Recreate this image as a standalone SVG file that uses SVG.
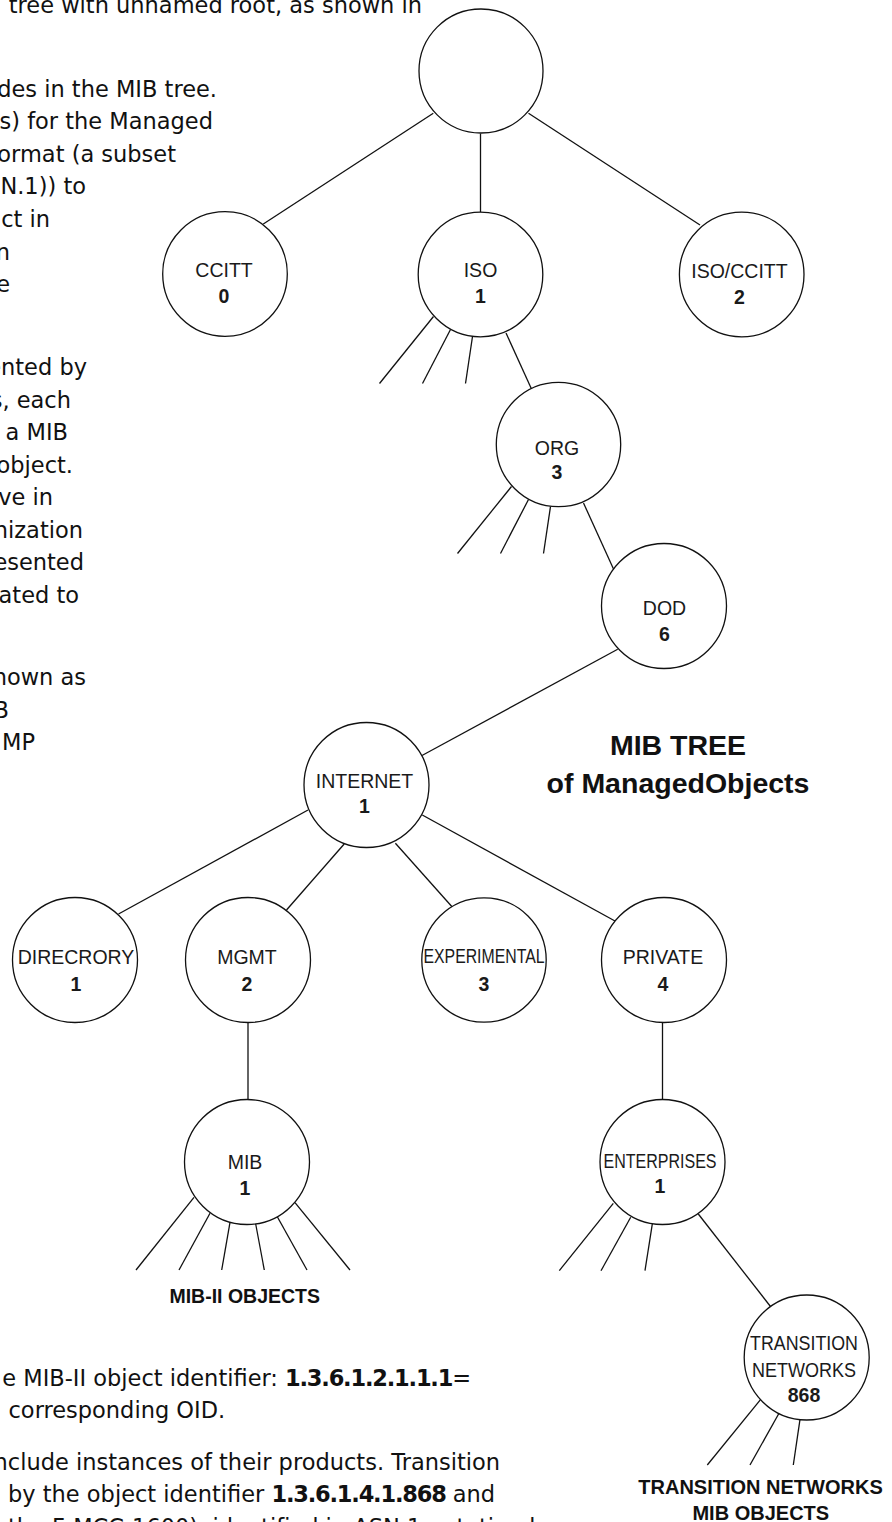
<svg xmlns="http://www.w3.org/2000/svg" width="892" height="1522" viewBox="0 0 892 1522">
<style>
.n{fill:#fff;stroke:#111;stroke-width:1.3}
#connectors line{stroke:#111;stroke-width:1.3;fill:none}
.lb{font-family:"Liberation Sans",Arial,sans-serif;font-size:19.5px;fill:#1a1a1a;text-anchor:middle}
.num{font-weight:bold}
.body{font-family:"DejaVu Sans","Liberation Sans",sans-serif;font-size:22.5px;fill:#111}
.e{text-anchor:end}
.b{font-weight:bold;letter-spacing:-1.2px}
.cap{font-family:"Liberation Sans",Arial,sans-serif;font-weight:bold;text-anchor:middle;fill:#111}
</style>
<rect width="892" height="1522" fill="#fff"/>

<g id="body-text">
<text class="body e" x="422" y="12.5">tree with unnamed root, as shown in</text>
<text class="body e" x="217" y="97">des in the MIB tree.</text>
<text class="body e" x="213" y="129">s) for the Managed</text>
<text class="body e" x="176" y="161.5">format (a subset</text>
<text class="body e" x="86" y="194">N.1)) to</text>
<text class="body e" x="50" y="227">ct in</text>
<text class="body e" x="10" y="259.5">n</text>
<text class="body e" x="10" y="292">e</text>
<text class="body e" x="87" y="375">ented by</text>
<text class="body e" x="71" y="407.5">s, each</text>
<text class="body e" x="68" y="440">a MIB</text>
<text class="body e" x="73" y="472.5">object.</text>
<text class="body e" x="53" y="505">ve in</text>
<text class="body e" x="83" y="537.5">nization</text>
<text class="body e" x="84" y="570">esented</text>
<text class="body e" x="79" y="602.5">ated to</text>
<text class="body e" x="86" y="685">hown as</text>
<text class="body e" x="9" y="717.5">B</text>
<text class="body e" x="35" y="750">MP</text>
<text class="body e" x="471" y="1386">e MIB-II object identifier: <tspan class="b">1.3.6.1.2.1.1.1</tspan>=</text>
<text class="body" x="8.5" y="1418.3">corresponding OID.</text>
<text class="body e" x="500" y="1470">nclude instances of their products. Transition</text>
<text class="body" x="8" y="1501.7">by the object identifier <tspan class="b">1.3.6.1.4.1.868</tspan> and</text>
<text class="body" x="8" y="1535">the F-MCC-1600), identified in ASN.1 notation by</text>
</g>

<g id="connectors">
<line x1="433.3" y1="113.3" x2="263.3" y2="224"/>
<line x1="480.5" y1="133.5" x2="480.5" y2="212.3"/>
<line x1="528.5" y1="113.3" x2="700" y2="225"/>
<line x1="433.5" y1="316.5" x2="379.5" y2="383.5"/>
<line x1="450.5" y1="329.5" x2="422.5" y2="383.5"/>
<line x1="472.5" y1="336.5" x2="465.5" y2="383.5"/>
<line x1="506" y1="333" x2="531.5" y2="389"/>
<line x1="511.5" y1="486.5" x2="457.5" y2="553.5"/>
<line x1="528.5" y1="499.5" x2="500.5" y2="553.5"/>
<line x1="550.5" y1="506.5" x2="543.5" y2="553.5"/>
<line x1="583.5" y1="503" x2="613.5" y2="569"/>
<line x1="617.7" y1="649.3" x2="422" y2="755.5"/>
<line x1="308" y1="810" x2="118.5" y2="914"/>
<line x1="344.2" y1="844" x2="286.5" y2="910"/>
<line x1="395.4" y1="843.3" x2="452" y2="906.7"/>
<line x1="422.3" y1="815" x2="615" y2="921"/>
<line x1="248" y1="1022.5" x2="248" y2="1099.5"/>
<line x1="194" y1="1197.3" x2="136" y2="1270"/>
<line x1="210" y1="1213.3" x2="179" y2="1270"/>
<line x1="230" y1="1222.3" x2="221.7" y2="1270"/>
<line x1="255.7" y1="1224" x2="264.3" y2="1270"/>
<line x1="277.3" y1="1216.7" x2="307" y2="1270"/>
<line x1="295" y1="1202.7" x2="350" y2="1270"/>
<line x1="662.5" y1="1022.5" x2="662.5" y2="1099.5"/>
<line x1="613.3" y1="1203.3" x2="559.3" y2="1270.7"/>
<line x1="630.7" y1="1217.3" x2="601" y2="1270.7"/>
<line x1="652.3" y1="1224" x2="645" y2="1270.7"/>
<line x1="698.3" y1="1214" x2="770.5" y2="1306.5"/>
<line x1="760.7" y1="1399.3" x2="707.3" y2="1465"/>
<line x1="779.3" y1="1412.7" x2="750" y2="1465"/>
<line x1="800" y1="1419.3" x2="793.3" y2="1465"/>
</g>

<g id="root"><circle class="n" cx="481" cy="71" r="62"/></g>
<g id="ccitt"><circle class="n" cx="225" cy="274" r="62.3"/>
<text class="lb" x="224" y="277.3">CCITT</text><text class="lb num" x="224" y="303.3">0</text></g>
<g id="iso"><circle class="n" cx="480.5" cy="274.5" r="62.3"/>
<text class="lb" x="480.5" y="277.3">ISO</text><text class="lb num" x="480.5" y="303.3">1</text></g>
<g id="iso-ccitt"><circle class="n" cx="741.7" cy="274.5" r="62.3"/>
<text class="lb" x="739.5" y="278.3">ISO/CCITT</text><text class="lb num" x="739.5" y="304">2</text></g>
<g id="org"><circle class="n" cx="558.5" cy="444.5" r="62.2"/>
<text class="lb" x="557" y="455">ORG</text><text class="lb num" x="557" y="479.3">3</text></g>
<g id="dod"><circle class="n" cx="664" cy="606" r="62.5"/>
<text class="lb" x="664.5" y="615">DOD</text><text class="lb num" x="664.5" y="640.7">6</text></g>
<g id="internet"><circle class="n" cx="366.5" cy="785" r="62.5"/>
<text class="lb" x="364.5" y="788.3">INTERNET</text><text class="lb num" x="364.5" y="813">1</text></g>
<g id="directory"><circle class="n" cx="75" cy="960" r="62.5"/>
<text class="lb" x="76" y="964">DIRECRORY</text><text class="lb num" x="76" y="990.7">1</text></g>
<g id="mgmt"><circle class="n" cx="248" cy="960" r="62.5"/>
<text class="lb" x="247" y="964">MGMT</text><text class="lb num" x="247" y="990.7">2</text></g>
<g id="experimental"><circle class="n" cx="484" cy="960" r="62.2"/>
<text class="lb" x="484" y="963" textLength="121" lengthAdjust="spacingAndGlyphs">EXPERIMENTAL</text><text class="lb num" x="484" y="990.7">3</text></g>
<g id="private"><circle class="n" cx="664" cy="960" r="62.5"/>
<text class="lb" x="663" y="964">PRIVATE</text><text class="lb num" x="663" y="990.7">4</text></g>
<g id="mib"><circle class="n" cx="247" cy="1162" r="62.5"/>
<text class="lb" x="245" y="1169.3">MIB</text><text class="lb num" x="245" y="1195">1</text></g>
<g id="enterprises"><circle class="n" cx="662.5" cy="1162" r="62.5"/>
<text class="lb" x="660" y="1168.3" textLength="113" lengthAdjust="spacingAndGlyphs">ENTERPRISES</text><text class="lb num" x="660" y="1193.3">1</text></g>
<g id="transition"><circle class="n" cx="806.7" cy="1357.5" r="62.5"/>
<text class="lb" x="804" y="1350" textLength="108" lengthAdjust="spacingAndGlyphs">TRANSITION</text>
<text class="lb" x="804" y="1376.7" textLength="104" lengthAdjust="spacingAndGlyphs">NETWORKS</text>
<text class="lb num" x="804" y="1401.7">868</text></g>

<g id="captions">
<text class="cap" x="678" y="755" font-size="28.5">MIB TREE</text>
<text class="cap" x="678" y="792.7" font-size="28.5">of ManagedObjects</text>
<text class="cap" x="244.7" y="1303.3" font-size="19.5">MIB-II OBJECTS</text>
<text class="cap" x="760.5" y="1494" font-size="20">TRANSITION NETWORKS</text>
<text class="cap" x="760.8" y="1520" font-size="20">MIB OBJECTS</text>
</g>
</svg>
